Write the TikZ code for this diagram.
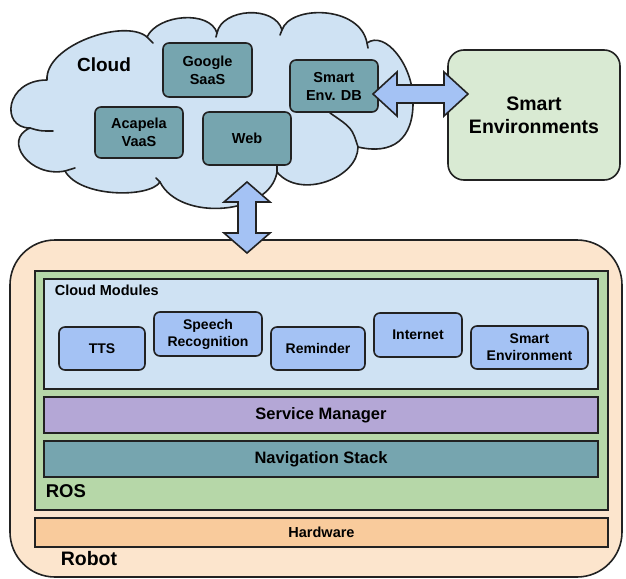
\documentclass[tikz,border=0pt]{standalone}
\usepackage{fontspec}
\setmainfont{Liberation Sans}
\definecolor{cloudfill}{HTML}{CFE2F3}
\definecolor{tealfill}{HTML}{76A5AF}
\definecolor{smartfill}{HTML}{D9EAD3}
\definecolor{arrowfill}{HTML}{A4C2F4}
\definecolor{robotfill}{HTML}{FCE5CD}
\definecolor{rosfill}{HTML}{B6D7A8}
\definecolor{svcfill}{HTML}{B4A7D6}
\definecolor{hwfill}{HTML}{F9CB9C}
\definecolor{edge}{HTML}{222222}
\begin{document}
\begin{tikzpicture}[x=1pt,y=-1pt,
  line width=1.6pt,
  every node/.style={text=black, inner sep=0pt, align=center},
  tealbox/.style={draw=edge, fill=tealfill, rounded corners=6pt,
    font=\bfseries\fontsize{14.5}{18}\selectfont},
  modbox/.style={draw=edge, fill=arrowfill, rounded corners=6pt,
    font=\bfseries\fontsize{14}{17}\selectfont},
  layer/.style={draw=edge, font=\bfseries\fontsize{16.5}{19}\selectfont},
  blockarrow/.style={draw=edge, fill=arrowfill, line width=1.6pt, line join=miter},
  stub/.style={draw=edge, line width=1.6pt, line cap=round}]
\useasboundingbox (0,0) rectangle (626,578);

% ---- cloud ----
\coordinate (cA) at (47,80);
\coordinate (cI) at (147,37);
\coordinate (cJ) at (217,33);
\coordinate (cH) at (282,30);
\coordinate (cG) at (367,43);
\coordinate (cR) at (413,100);
\coordinate (cF) at (358,147);
\coordinate (cE) at (277,172);
\coordinate (cD) at (160,182);
\coordinate (cC) at (65,171);
\coordinate (cB) at (30,128);
\path[draw=edge, fill=cloudfill, line join=round]
  (cA) .. controls (45,45) and (125,18) .. (cI)
  .. controls (158,14) and (210,10) .. (cJ)
  .. controls (222,8) and (275,5) .. (cH)
  .. controls (290,5) and (360,5) .. (cG)
  .. controls (385,30) and (413,65) .. (cR)
  .. controls (414,140) and (392,155) .. (cF)
  .. controls (358,178) and (300,200) .. (cE)
  .. controls (270,215) and (180,222) .. (cD)
  .. controls (150,198) and (80,198) .. (cC)
  .. controls (30,178) and (2,140) .. (cB)
  .. controls (0,128) and (5,80) .. (cA) -- cycle;
\draw[stub] (cF) .. controls (352,128) .. (330,113);
\draw[stub] (cB) .. controls (40,131) .. (53,131);
\draw[stub] (cC) -- (75,168);
\draw[stub] (cD) -- (156,178);
\draw[stub] (cE) -- (277,166);
\draw[stub] (cG) -- (368,48);
\draw[stub] (cH) -- (280,35);
\draw[stub] (cJ) -- (216,37);
\draw[stub] (cI) -- (153,43);

\node[font=\bfseries\fontsize{19}{22}\selectfont] (cloudlbl) at (104,65) {Cloud};
\node[tealbox, minimum width=89pt, minimum height=54pt] (google) at (207.5,70) {Google\\SaaS};
\node[tealbox, minimum width=88pt, minimum height=52pt] (sedb) at (334,86) {Smart\\Env. DB};
\node[tealbox, minimum width=88pt, minimum height=51pt] (acapela) at (139,132.5) {Acapela\\VaaS};
\node[tealbox, minimum width=88pt, minimum height=53pt] (web) at (247,138.5) {Web};

% ---- smart environments ----
\node[draw=edge, fill=smartfill, rounded corners=16pt, minimum width=172pt, minimum height=130pt,
  font=\bfseries\fontsize{19.5}{23}\selectfont] (smartenv) at (534,115) {Smart\\Environments};

% ---- robot ----
\node[draw=edge, fill=robotfill, rounded corners=45pt, minimum width=612pt, minimum height=337pt] (robot) at (316,408.5) {};
\node[draw=edge, fill=rosfill, minimum width=573pt, minimum height=239pt] (ros) at (321.5,390.5) {};
\node[draw=edge, fill=cloudfill, minimum width=554pt, minimum height=110pt] (cm) at (321,334) {};
\node[anchor=west, font=\bfseries\fontsize{14.5}{17}\selectfont] (cmlbl) at (54,290) {Cloud Modules};
\node[modbox, minimum width=86pt, minimum height=43pt] (tts) at (102,348.5) {TTS};
\node[modbox, minimum width=108pt, minimum height=44pt] (speech) at (208,334) {Speech\\Recognition};
\node[modbox, minimum width=94pt, minimum height=43pt] (reminder) at (318,348.5) {Reminder};
\node[modbox, minimum width=88pt, minimum height=44pt] (internet) at (418,335) {Internet};
\node[modbox, minimum width=117pt, minimum height=43pt] (smartmod) at (529.5,347.5) {Smart\\Environment};
\node[layer, fill=svcfill, minimum width=554pt, minimum height=36pt] (svc) at (321,415) {Service Manager};
\node[layer, fill=tealfill, minimum width=554pt, minimum height=36pt] (nav) at (321,459) {Navigation Stack};
\node[anchor=west, font=\bfseries\fontsize{18.5}{21}\selectfont] (roslbl) at (45,491) {ROS};
\node[draw=edge, fill=hwfill, minimum width=573pt, minimum height=29pt,
  font=\bfseries\fontsize{14.5}{17}\selectfont] (hw) at (321.5,532.5) {Hardware};
\node[anchor=west, font=\bfseries\fontsize{19.5}{22}\selectfont] (robotlbl) at (60,559) {Robot};

% ---- block arrows ----
\coordinate (hL) at (373,94);
\coordinate (hR) at (468,94);
\draw[blockarrow] (hL) -- ++(24,-22) -- ++(0,13) -- ++(47,0) -- ++(0,-13) -- (hR)
  -- ++(-24,22) -- ++(0,-13) -- ++(-47,0) -- ++(0,13) -- cycle;
\coordinate (vT) at (247,182);
\coordinate (vB) at (247,253);
\draw[blockarrow] (vT) -- ++(23,20) -- ++(-14,0) -- ++(0,31) -- ++(14,0) -- (vB)
  -- ++(-23,-20) -- ++(14,0) -- ++(0,-31) -- ++(-14,0) -- cycle;
\end{tikzpicture}
\end{document}
